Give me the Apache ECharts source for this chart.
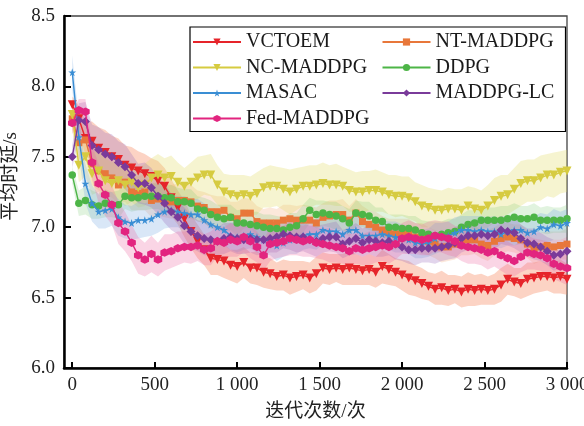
<!DOCTYPE html>
<html><head><meta charset="utf-8">
<script src="https://cdn.jsdelivr.net/npm/echarts@6/dist/echarts.min.js"></script>
<style>html,body{margin:0;padding:0;background:#fff}#c{width:584px;height:426px}</style>
</head><body><div id="c"></div>
<script>
const iterations = [0,40,80,120,160,200,240,280,320,360,400,440,480,520,560,600,640,680,720,760,
800,840,880,920,960,1000,1040,1080,1120,1160,1200,1240,1280,1320,1360,1400,1440,1480,1520,1560,
1600,1640,1680,1720,1760,1800,1840,1880,1920,1960,2000,2040,2080,2120,2160,2200,2240,2280,2320,2360,
2400,2440,2480,2520,2560,2600,2640,2680,2720,2760,2800,2840,2880,2920,2960,3000];
const xTickValues = [0,500,1000,1500,2000,2500,3000];

const seriesNames = ['VCTOEM','NT-MADDPG','NC-MADDPG','DDPG','MASAC','MADDPG-LC','Fed-MADDPG'];

const vctoem = [7.87,7.77,7.63,7.61,7.56,7.53,7.50,7.48,7.44,7.42,
7.40,7.38,7.36,7.33,7.29,7.21,7.14,7.06,6.97,6.90,
6.84,6.78,6.77,6.76,6.73,6.72,6.75,6.71,6.71,6.68,
6.67,6.65,6.66,6.64,6.65,6.66,6.64,6.67,6.71,6.70,
6.71,6.70,6.71,6.70,6.69,6.70,6.68,6.72,6.70,6.68,
6.66,6.64,6.62,6.60,6.58,6.56,6.57,6.55,6.56,6.54,
6.56,6.55,6.56,6.55,6.56,6.59,6.63,6.61,6.60,6.63,
6.64,6.65,6.65,6.64,6.65,6.63];
const ntMaddpg = [7.77,7.60,7.62,7.45,7.40,7.38,7.35,7.30,7.32,7.25,
7.24,7.25,7.19,7.20,7.18,7.18,7.19,7.19,7.18,7.15,
7.14,7.11,7.11,7.12,7.07,7.06,7.10,7.10,7.04,7.03,
7.03,7.03,7.05,7.06,7.05,7.05,7.05,7.03,7.07,7.08,
7.09,7.09,7.05,7.10,7.04,7.02,7.00,6.98,6.96,6.95,
6.96,6.95,6.93,6.92,6.90,6.88,6.86,6.86,6.88,6.90,
6.91,6.91,6.88,6.87,6.90,6.92,6.93,6.92,6.91,6.88,
6.85,6.86,6.87,6.86,6.87,6.88];
const ncMaddpg = [7.80,7.44,7.50,7.38,7.40,7.33,7.31,7.33,7.30,7.32,
7.28,7.30,7.35,7.37,7.35,7.36,7.32,7.29,7.32,7.35,
7.37,7.37,7.30,7.25,7.23,7.22,7.23,7.22,7.24,7.28,
7.29,7.29,7.27,7.25,7.27,7.29,7.29,7.30,7.31,7.30,
7.30,7.29,7.26,7.25,7.25,7.26,7.26,7.25,7.23,7.22,
7.22,7.21,7.18,7.15,7.14,7.12,7.12,7.13,7.13,7.12,
7.15,7.13,7.12,7.15,7.19,7.22,7.23,7.27,7.31,7.33,
7.33,7.35,7.37,7.37,7.39,7.40];
const ddpg = [7.37,7.17,7.19,7.16,7.15,7.17,7.16,7.16,7.22,7.21,
7.21,7.22,7.22,7.22,7.21,7.21,7.18,7.18,7.17,7.13,
7.12,7.09,7.07,7.06,7.07,7.03,7.03,7.02,7.01,7.00,
6.99,6.99,6.98,7.00,7.01,7.06,7.12,7.09,7.10,7.09,
7.08,7.06,7.03,7.10,7.09,7.08,7.05,7.04,7.00,7.00,
6.99,6.99,6.98,6.96,6.95,6.94,6.95,6.96,6.97,7.00,
7.02,7.03,7.05,7.05,7.05,7.05,7.06,7.07,7.06,7.06,
7.07,7.05,7.05,7.05,7.05,7.06];
const masac = [8.10,7.64,7.31,7.17,7.11,7.12,7.13,7.07,7.04,7.03,
7.05,7.05,7.06,7.09,7.11,7.12,7.11,7.10,7.09,7.09,
7.05,7.02,7.00,6.98,6.94,6.93,6.94,6.95,6.93,6.91,
6.90,6.87,6.89,6.91,6.92,6.94,6.95,6.95,6.98,6.97,
6.97,6.95,6.98,6.98,6.94,6.94,6.94,6.95,6.94,6.93,
6.92,6.91,6.89,6.88,6.89,6.92,6.93,6.94,6.96,6.98,
6.98,6.97,6.98,6.97,6.97,6.95,6.97,6.98,6.98,6.96,
6.97,7.00,6.99,7.02,7.01,7.03];
const maddpgLc = [7.50,7.76,7.75,7.58,7.55,7.52,7.50,7.46,7.43,7.37,
7.31,7.31,7.28,7.22,7.17,7.11,7.07,7.01,6.97,6.94,
6.92,6.91,6.90,6.92,6.93,6.92,6.91,6.92,6.91,6.91,
6.92,6.93,6.95,6.94,6.93,6.93,6.91,6.90,6.92,6.93,
6.93,6.88,6.90,6.92,6.89,6.91,6.90,6.89,6.90,6.88,
6.86,6.84,6.84,6.85,6.85,6.85,6.86,6.87,6.89,6.92,
6.94,6.94,6.95,6.94,6.95,6.98,6.97,6.96,6.92,6.89,
6.88,6.86,6.83,6.80,6.81,6.83];
const fedMaddpg = [7.74,7.83,7.82,7.46,7.31,7.23,7.16,7.03,6.97,6.89,
6.80,6.77,6.81,6.77,6.82,6.83,6.85,6.86,6.86,6.87,
6.84,6.85,6.90,6.89,6.91,6.90,6.93,6.90,6.86,6.80,
6.88,6.89,6.90,6.92,6.91,6.90,6.91,6.89,6.88,6.87,
6.86,6.85,6.83,6.85,6.84,6.85,6.86,6.87,6.86,6.88,
6.92,6.93,6.92,6.91,6.92,6.94,6.93,6.92,6.90,6.87,
6.86,6.85,6.84,6.82,6.83,6.80,6.78,6.76,6.79,6.82,
6.81,6.80,6.78,6.74,6.72,6.71];

// half-width of the shaded band around each curve
const vctoemSpread = [0.06,0.09,0.12,0.14,0.15,0.16,0.15,0.15,0.14,0.15,
0.14,0.14,0.13,0.14,0.13,0.13,0.12,0.13,0.12,0.12,
0.11,0.12,0.11,0.12,0.11,0.12,0.11,0.11,0.12,0.11,
0.11,0.10,0.11,0.12,0.11,0.10,0.11,0.12,0.11,0.11,
0.10,0.11,0.12,0.11,0.10,0.11,0.11,0.12,0.11,0.10,
0.11,0.12,0.11,0.11,0.10,0.11,0.12,0.11,0.10,0.11,
0.12,0.11,0.11,0.10,0.11,0.12,0.11,0.10,0.11,0.12,
0.11,0.11,0.10,0.11,0.12,0.11];
const ntSpread = [0.08,0.12,0.14,0.15,0.14,0.15,0.14,0.13,0.14,0.13,
0.12,0.13,0.12,0.12,0.11,0.12,0.12,0.11,0.12,0.11,
0.11,0.12,0.11,0.10,0.11,0.12,0.11,0.10,0.11,0.10,
0.11,0.10,0.11,0.10,0.10,0.11,0.10,0.11,0.10,0.11,
0.10,0.11,0.10,0.10,0.11,0.10,0.11,0.10,0.10,0.11,
0.10,0.11,0.10,0.11,0.10,0.10,0.11,0.10,0.11,0.10,
0.11,0.10,0.10,0.11,0.10,0.11,0.10,0.10,0.11,0.10,
0.11,0.10,0.10,0.11,0.10,0.11];
const ncSpread = [0.08,0.12,0.14,0.15,0.15,0.16,0.15,0.14,0.15,0.14,
0.14,0.15,0.14,0.15,0.14,0.15,0.14,0.13,0.14,0.15,
0.14,0.15,0.14,0.13,0.14,0.15,0.14,0.14,0.15,0.14,
0.15,0.14,0.15,0.16,0.15,0.14,0.15,0.14,0.15,0.14,
0.15,0.14,0.15,0.14,0.15,0.14,0.15,0.14,0.14,0.15,
0.14,0.15,0.14,0.15,0.14,0.15,0.14,0.15,0.14,0.15,
0.14,0.15,0.14,0.15,0.16,0.15,0.14,0.15,0.16,0.15,
0.15,0.16,0.15,0.16,0.15,0.15];
const ddpgSpread = [0.06,0.09,0.10,0.10,0.09,0.10,0.09,0.10,0.09,0.10,
0.09,0.10,0.09,0.09,0.10,0.09,0.10,0.09,0.10,0.09,
0.09,0.10,0.09,0.10,0.09,0.09,0.10,0.09,0.10,0.09,
0.10,0.09,0.09,0.10,0.09,0.10,0.09,0.10,0.09,0.09,
0.10,0.09,0.10,0.09,0.09,0.10,0.09,0.10,0.09,0.09,
0.10,0.09,0.10,0.09,0.09,0.10,0.09,0.10,0.09,0.09,
0.10,0.09,0.10,0.09,0.09,0.10,0.09,0.10,0.09,0.09,
0.10,0.09,0.10,0.09,0.09,0.10];
const masacSpread = [0.12,0.13,0.14,0.13,0.12,0.13,0.12,0.13,0.12,0.12,
0.13,0.12,0.12,0.13,0.12,0.12,0.11,0.12,0.11,0.11,
0.12,0.11,0.10,0.11,0.10,0.11,0.10,0.10,0.11,0.10,
0.10,0.11,0.10,0.10,0.11,0.10,0.10,0.11,0.10,0.10,
0.11,0.10,0.10,0.11,0.10,0.10,0.11,0.10,0.10,0.11,
0.10,0.10,0.11,0.10,0.10,0.11,0.10,0.10,0.11,0.10,
0.10,0.11,0.10,0.10,0.11,0.10,0.10,0.11,0.10,0.10,
0.11,0.10,0.10,0.11,0.10,0.10];
const lcSpread = [0.08,0.12,0.14,0.15,0.16,0.15,0.16,0.15,0.16,0.15,
0.14,0.15,0.14,0.13,0.14,0.13,0.12,0.13,0.12,0.11,
0.12,0.11,0.10,0.11,0.10,0.11,0.10,0.10,0.11,0.10,
0.10,0.11,0.10,0.10,0.11,0.10,0.10,0.11,0.10,0.10,
0.11,0.10,0.10,0.11,0.10,0.10,0.11,0.10,0.10,0.11,
0.10,0.10,0.11,0.10,0.10,0.11,0.10,0.10,0.11,0.10,
0.10,0.11,0.10,0.10,0.11,0.10,0.10,0.11,0.10,0.10,
0.11,0.10,0.10,0.11,0.10,0.10];
const fedSpread = [0.08,0.08,0.09,0.12,0.14,0.15,0.14,0.15,0.14,0.13,
0.13,0.12,0.13,0.12,0.13,0.12,0.12,0.11,0.12,0.11,
0.11,0.12,0.11,0.11,0.12,0.11,0.11,0.12,0.11,0.11,
0.12,0.11,0.11,0.12,0.11,0.11,0.12,0.11,0.11,0.12,
0.11,0.11,0.12,0.11,0.11,0.12,0.11,0.11,0.12,0.11,
0.11,0.12,0.11,0.11,0.12,0.11,0.11,0.12,0.11,0.11,
0.12,0.11,0.11,0.12,0.11,0.11,0.12,0.11,0.11,0.12,
0.11,0.11,0.12,0.11,0.11,0.12];

const meanData = [vctoem, ntMaddpg, ncMaddpg, ddpg, masac, maddpgLc, fedMaddpg];
const spreadData = [vctoemSpread, ntSpread, ncSpread, ddpgSpread, masacSpread, lcSpread, fedSpread];

const lineColors = ['#e6242a','#e8773a','#d6cb40','#4db547','#3a8ed4','#7a3b9a','#e2247f'];
const bandColors = ['rgba(246,140,100,0.38)','rgba(240,150,90,0.22)','rgba(228,222,110,0.32)',
  'rgba(120,200,110,0.22)','rgba(120,170,225,0.28)','rgba(150,105,185,0.28)','rgba(235,100,160,0.27)'];
const STAR = 'path://M50,0 L61,35 L98,35 L68,57 L79,91 L50,70 L21,91 L32,57 L2,35 L39,35 Z';
const HEX = 'path://M50,0 L93,25 L93,75 L50,100 L7,75 L7,25 Z';
const symbols = ['triangle','rect',"triangle",'circle',STAR,'diamond',HEX];
const symbolRotates = [180,0,180,0,0,0,0];
const symbolSizes = [9,7,9,7.5,8,9,8.5];

const SERIF = '"Liberation Serif","Times New Roman",serif';
const MIXED = '"Liberation Serif","Noto Sans CJK SC",serif';

const series = [];
meanData.forEach((m, k) => {
  const sp = spreadData[k];
  series.push({
    type: 'custom', name: seriesNames[k] + '_band', silent: true, z: 1,
    data: [[iterations[0], m[0]]],
    renderItem: (params, api) => {
      const pts = [];
      for (let i = 0; i < iterations.length; i++) pts.push(api.coord([iterations[i], m[i] + sp[i]]));
      for (let i = iterations.length - 1; i >= 0; i--) pts.push(api.coord([iterations[i], m[i] - sp[i]]));
      return {type: 'polygon', shape: {points: pts}, style: {fill: bandColors[k], stroke: null}};
    }
  });
});
meanData.forEach((m, k) => {
  series.push({
    type:'line', name: seriesNames[k], z: 3 + k,
    symbol: symbols[k], symbolSize: symbolSizes[k], symbolRotate: symbolRotates[k],
    showAllSymbol: true,
    lineStyle:{color: lineColors[k], width: 1.4},
    itemStyle:{color: lineColors[k]},
    data: iterations.map((x,i) => [x, m[i]])
  });
});

const chart = echarts.init(document.getElementById('c'), null, {renderer:'canvas'});
chart.setOption({
  animation: false,
  backgroundColor: '#fff',
  grid: {left: 64, right: 17, top: 16, bottom: 58, show: true, borderColor: '#444', borderWidth: 1.3,
    containLabel: false, outerBoundsMode: 'none'},
  legend: {
    orient: 'vertical', left: 190, top: 27, height: 100,
    data: ['VCTOEM','NC-MADDPG','MASAC','Fed-MADDPG','NT-MADDPG','DDPG','MADDPG-LC'],
    itemWidth: 48, itemHeight: 9, itemGap: 5.5,
    textStyle: {fontFamily: SERIF, fontSize: 20, color: '#1a1a1a', lineHeight: 20, width: 130},
    borderColor: '#000', borderWidth: 1.2, padding: [5, 0, 3, 2], backgroundColor: '#fff'
  },
  xAxis: {
    type: 'value', min: -50, max: 3000,
    axisLine: {show: true, onZero: false, lineStyle: {color: '#000', width: 2.5}},
    axisTick: {show: true, inside: true, length: 6, lineStyle: {color: '#000', width: 2}, customValues: xTickValues},
    axisLabel: {customValues: xTickValues, margin: 8, fontFamily: SERIF, fontSize: 19, color: '#222',
      formatter: v => v >= 1000 ? String(v).replace(/(\d)(\d{3})$/, '$1 $2') : String(v)},
    splitLine: {show: false},
    name: '迭代次数/次', nameLocation: 'middle', nameGap: 35,
    nameTextStyle: {fontFamily: MIXED, fontSize: 19, color: '#222'}
  },
  yAxis: {
    type: 'value', min: 6, max: 8.5, interval: 0.5,
    axisLine: {show: true, onZero: false, lineStyle: {color: '#000', width: 2.5}},
    axisTick: {show: true, inside: true, length: 7, lineStyle: {color: '#000', width: 2}},
    axisLabel: {margin: 9, fontFamily: SERIF, fontSize: 19, color: '#222', formatter: v => v.toFixed(1)},
    splitLine: {show: false},
    name: '平均时延/s', nameLocation: 'middle', nameGap: 39,
    nameTextStyle: {fontFamily: MIXED, fontSize: 19, color: '#222', padding: [0, 0, 0, 31]}
  },
  series: series
});
</script>
</body></html>
